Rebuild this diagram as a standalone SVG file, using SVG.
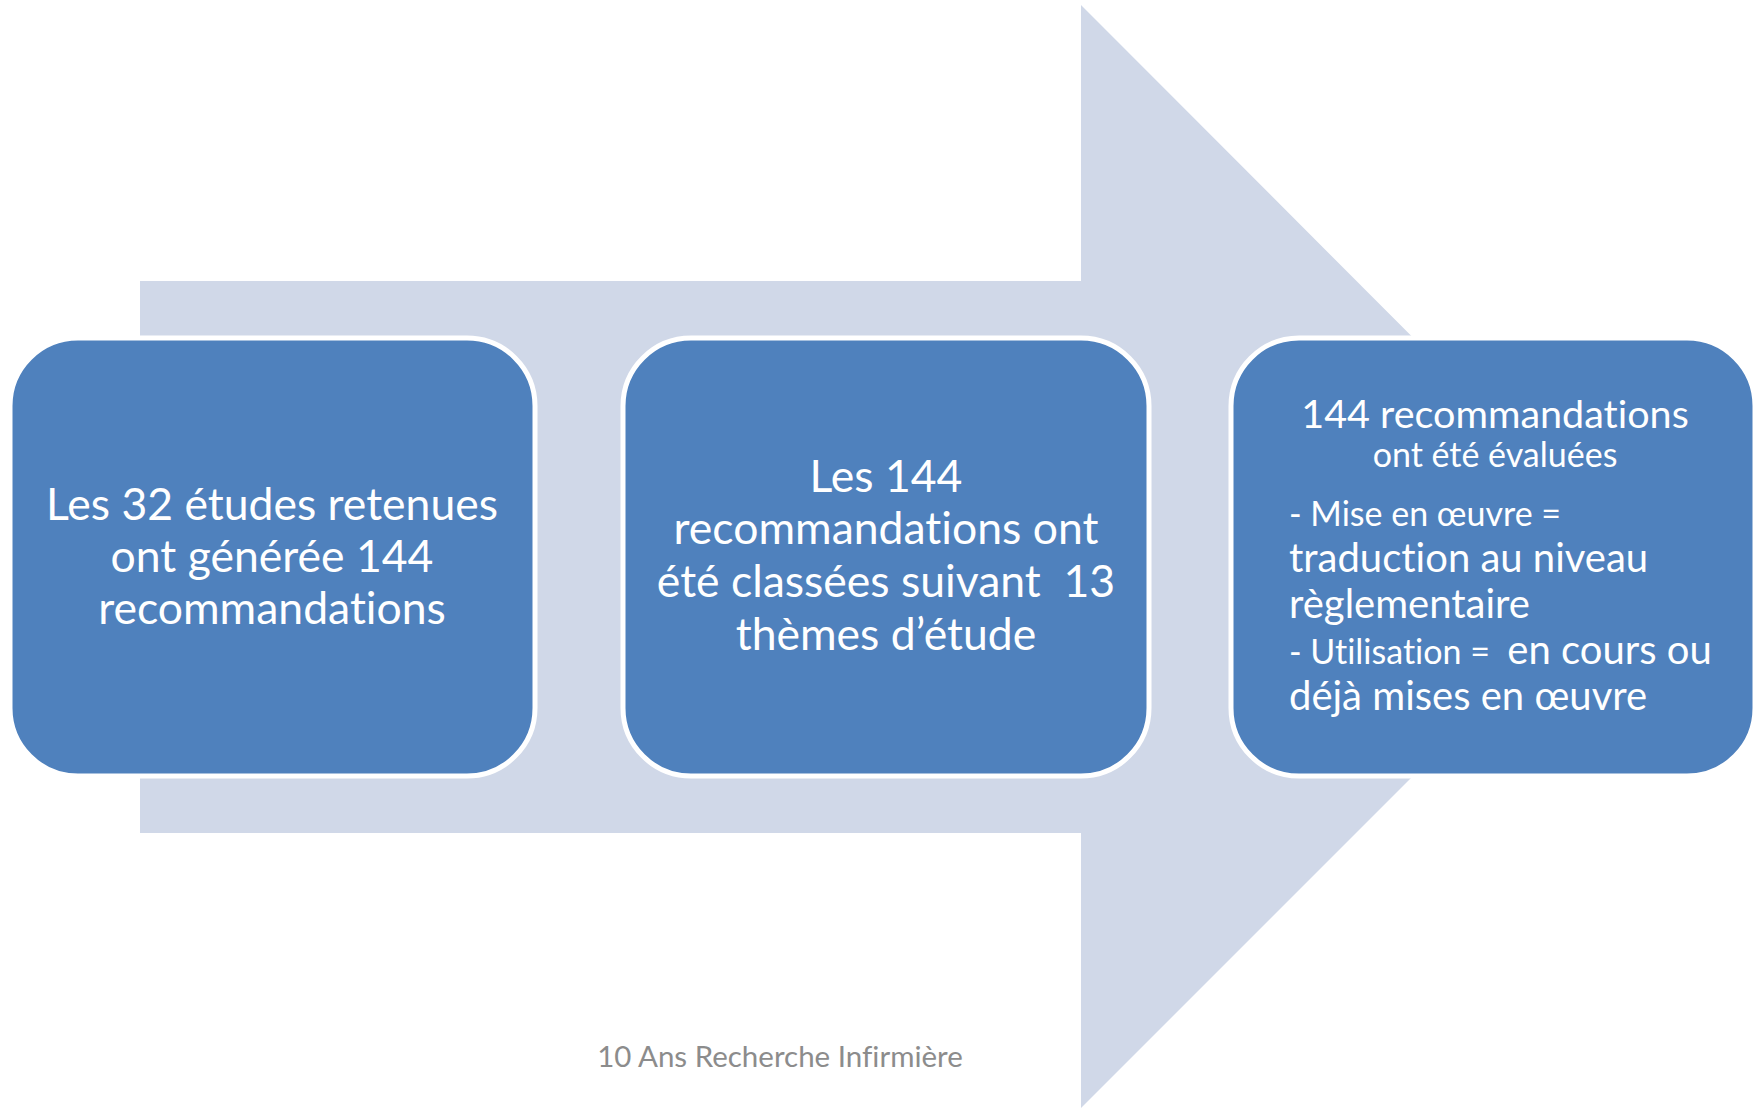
<svg xmlns="http://www.w3.org/2000/svg" width="1753" height="1109" viewBox="0 0 1753 1109">
<style>
.box{fill:#4F81BD;stroke:#FFFFFF;stroke-width:5}
.t{font-family:Lato,"Open Sans","Liberation Sans",sans-serif;fill:#FFFFFF;font-variant-ligatures:none;white-space:pre}
.c{text-anchor:middle}
.foot{font-family:Lato,"Open Sans","Liberation Sans",sans-serif;fill:#8C8C8C;font-size:29.5px;text-anchor:middle;font-variant-ligatures:none}
</style>
<rect width="1753" height="1109" fill="#FFFFFF"/>
<g id="connectors">
<polygon points="140,281 1081,281 1081,5 1632,557 1081,1108 1081,833 140,833" fill="#D0D8E8"/>
</g>
<g id="node1">
<rect class="box" x="10" y="338" width="525" height="438" rx="68"/>
<text class="t c" font-size="44.5" x="272" y="520">Les 32 études retenues</text>
<text class="t c" font-size="44.5" x="272" y="572">ont générée 144</text>
<text class="t c" font-size="44.5" x="272" y="624">recommandations</text>
</g>
<g id="node2">
<rect class="box" x="623" y="338" width="526" height="438" rx="68"/>
<text class="t c" font-size="44.5" x="886" y="492">Les 144</text>
<text class="t c" font-size="44.5" x="886" y="544">recommandations ont</text>
<text class="t c" font-size="44.5" x="886" y="597" xml:space="preserve">été classées suivant  13</text>
<text class="t c" font-size="44.5" x="886" y="650">thèmes d’étude</text>
</g>
<g id="node3">
<rect class="box" x="1231" y="338" width="524" height="438" rx="68"/>
<text class="t c" font-size="39.5" x="1495" y="428">144 recommandations</text>
<text class="t c" font-size="34" x="1495" y="467">ont été évaluées</text>
<text class="t" font-size="34" x="1289" y="526">- Mise en œuvre =</text>
<text class="t" font-size="40" x="1289" y="572">traduction au niveau</text>
<text class="t" font-size="40" x="1289" y="618">règlementaire</text>
<text class="t" x="1289" y="664" xml:space="preserve"><tspan font-size="34">- Utilisation =  </tspan><tspan font-size="40">en cours ou</tspan></text>
<text class="t" font-size="40" x="1289" y="710">déjà mises en œuvre</text>
</g>
<text class="foot" x="780" y="1067">10 Ans Recherche Infirmière</text>
</svg>
